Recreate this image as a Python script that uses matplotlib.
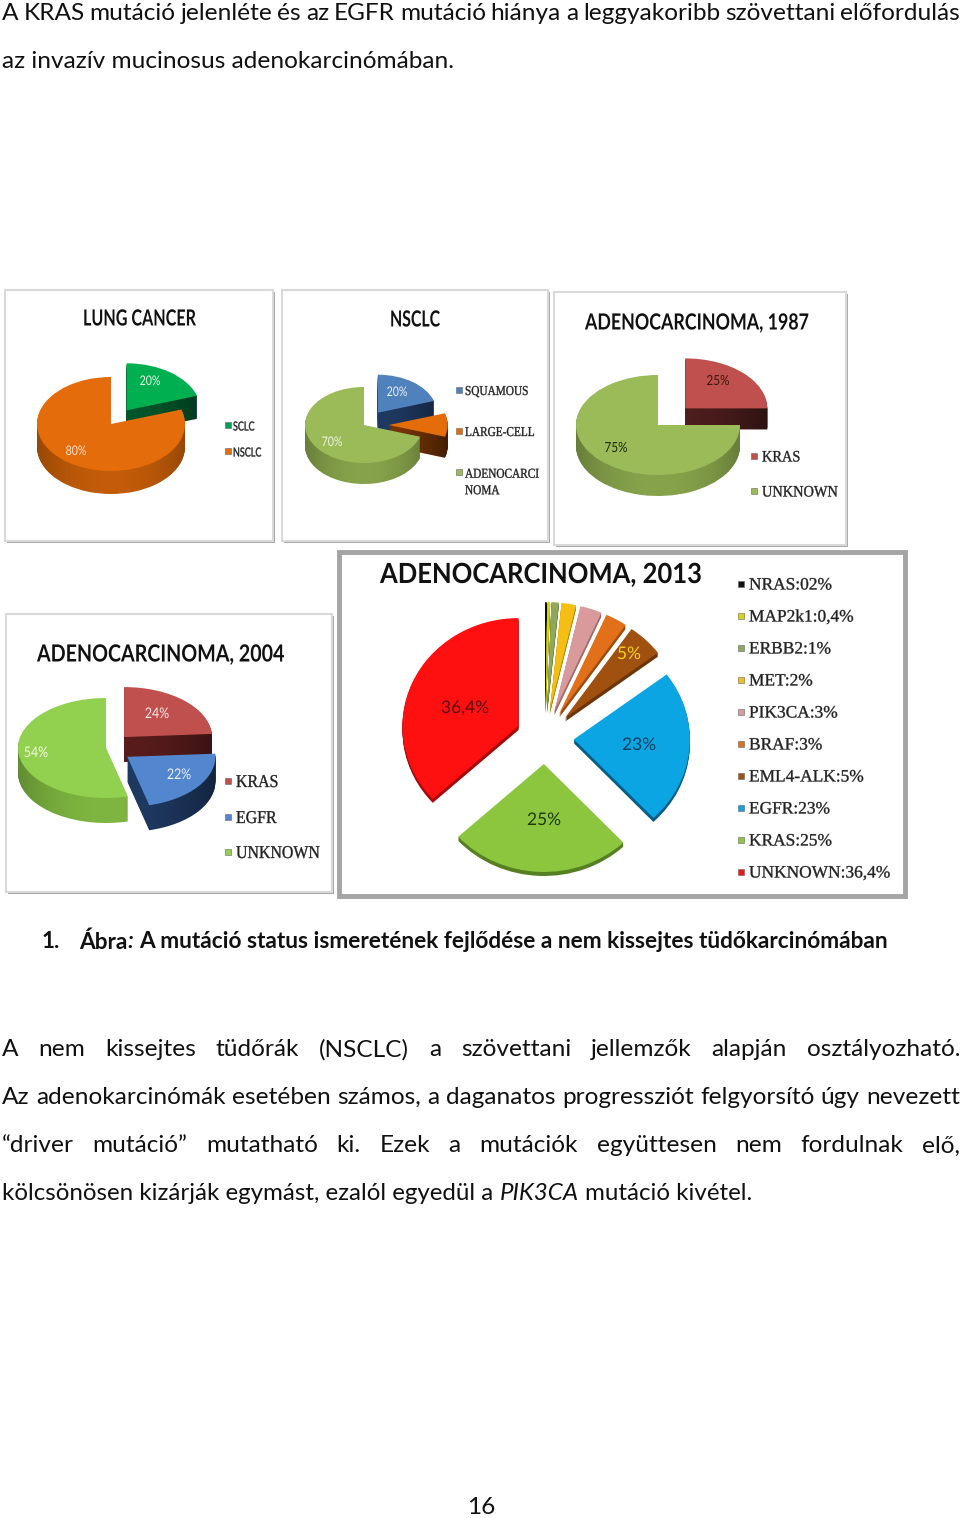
import numpy as np
import matplotlib
matplotlib.use("Agg")
import matplotlib.pyplot as plt
from matplotlib.patches import Rectangle
from matplotlib.path import Path
from matplotlib.patheffects import AbstractPathEffect
from matplotlib.transforms import Affine2D

# ---- data ----
lung_labels = ["SCLC", "NSCLC"]
lung_values = [20, 80]
nsclc_labels = ["SQUAMOUS", "LARGE-CELL", "ADENOCARCI\nNOMA"]
nsclc_values = [20, 10, 70]
adeno87_labels = ["KRAS", "UNKNOWN"]
adeno87_values = [25, 75]
adeno04_labels = ["KRAS", "EGFR", "UNKNOWN"]
adeno04_values = [24, 22, 54]
adeno13_labels = ["NRAS:02%", "MAP2k1:0,4%", "ERBB2:1%", "MET:2%", "PIK3CA:3%", "BRAF:3%",
                  "EML4-ALK:5%", "EGFR:23%", "KRAS:25%", "UNKNOWN:36,4%"]
adeno13_values = [0.2, 0.4, 1, 2, 3, 3, 5, 23, 25, 36.4]

para_top = ["A KRAS mutáció jelenléte és az EGFR mutáció hiánya a leggyakoribb szövettani előfordulás",
            "az invazív mucinosus adenokarcinómában."]
para_bottom = ["A nem kissejtes tüdőrák (NSCLC) a szövettani jellemzők alapján osztályozható.",
               "Az adenokarcinómák esetében számos, a daganatos progressziót felgyorsító úgy nevezett",
               "“driver mutáció” mutatható ki. Ezek a mutációk együttesen nem fordulnak elő,"]
para_last = [("kölcsönösen kizárják egymást, ezalól egyedül a ", "normal"), ("PIK3CA", "italic"),
             (" mutáció kivétel.", "normal")]
caption = [("Ábra", "normal"), (":", "italic"),
           (" A mutáció status ismeretének fejlődése a nem kissejtes tüdőkarcinómában", "normal")]

# ---- page ----
W, H = 960, 1518
fig = plt.figure(figsize=(W / 100, H / 100), dpi=100, facecolor="white")
page = fig.add_axes([0, 0, 1, 1], zorder=0)
page.set_xlim(0, W)
page.set_ylim(H, 0)
page.axis("off")
renderer = fig.canvas.get_renderer()
BODY = "Lato"
BODY_SIZE = 17.6
SERIF = "Liberation Serif"
z_text = 30


class Squeeze(AbstractPathEffect):
    """Narrows a real text horizontally about x0 (pixels), optionally thickening it."""

    def __init__(self, sx, x0, stroke=0.0):
        super().__init__()
        self.sx, self.x0, self.stroke = sx, x0, stroke

    def draw_path(self, renderer, gc, tpath, affine, rgbFace=None):
        aff = affine + Affine2D().translate(-self.x0, 0).scale(self.sx, 1).translate(self.x0, 0)
        if self.stroke:
            gc0 = renderer.new_gc()
            gc0.copy_properties(gc)
            gc0.set_linewidth(self.stroke)
            gc0.set_foreground(rgbFace)
            renderer.draw_path(gc0, tpath, aff, rgbFace)
            gc0.restore()
        else:
            renderer.draw_path(gc, tpath, aff, rgbFace)


def width(s, **kw):
    t = page.text(0, 0, s, **kw)
    w = t.get_window_extent(renderer).width
    t.remove()
    return w


def justified(line, x0, x1, y, **kw):
    words = line.split(" ")
    ws = [width(w, **kw) for w in words]
    gap = (x1 - x0 - sum(ws)) / (len(words) - 1)
    x = x0
    for w, wd in zip(words, ws):
        page.text(x, y, w, va="center", ha="left", color="#111111", **kw)
        x += wd + gap


def segments(parts, x, y, **kw):
    space = width("a a", **kw) - width("aa", **kw)
    for s, style in parts:
        if s.startswith(" "):
            x += space
            s = s[1:]
        trail = s.endswith(" ")
        s = s.rstrip(" ")
        page.text(x, y, s, va="center", ha="left", style=style, color="#111111", **kw)
        x += width(s, style=style, **kw) + (space if trail else 0)


body = dict(family=BODY, fontsize=BODY_SIZE)
justified(para_top[0], 2, 960, 14, **body)
segments([(para_top[1], "normal")], 2, 62, **body)
for line, y in zip(para_bottom, [1050, 1097, 1146]):
    justified(line, 2, 960, y, **body)
segments(para_last, 2, 1193, family=BODY, fontsize=17.4)
cap = dict(family=BODY, fontsize=16.3, weight="bold")
page.text(42, 942, "1.", va="center", ha="left", color="#111111", **cap)
segments(caption, 79, 942, **cap)
page.text(481, 1508, "16", va="center", ha="center", color="#111111", **body)


def frame(x0, y0, x1, y1, edge="#d9d9d9", shadow="#a8a8a8", lw=1.5):
    page.add_patch(Rectangle((x0 + 2, y0 + 2), x1 - x0, y1 - y0, fc=shadow, ec="none", zorder=1))
    page.add_patch(Rectangle((x0, y0), x1 - x0, y1 - y0, fc="white", ec=edge, lw=lw, zorder=2))


SHADE = np.zeros((1, 256, 4))
SHADE[0, :, 3] = 0.55 * np.abs(np.linspace(-1, 1, 256)) ** 2.2


def pie3d(cx, cy, rx, ry, depth, values, tops, sides, explode, order):
    """A pie tilted by unequal axis scales, its wall built from stacked pies."""
    ax = fig.add_axes([0, 0, 1, 1], zorder=5 + pie3d.n, facecolor="none")
    pie3d.n += 1
    wall = [[] for _ in values]
    for layer in range(depth, -1, -1):
        cols = tops if layer == 0 else sides
        wedges, _ = ax.pie(values, colors=cols, explode=explode, startangle=90,
                           counterclock=False, center=(0, -layer / ry), radius=1,
                           wedgeprops=dict(linewidth=0))
        for i, w in enumerate(wedges):
            if layer == 0:
                w.set_zorder(2 + order[i] * 10 + 1)
            else:
                w.set_zorder(2 + order[i] * 10 + (depth - layer) / (depth + 1) * 0.5)
                wall[i].append(w.get_path().deepcopy())
    if depth >= 10:
        for i, paths in enumerate(wall):
            clip = Path.make_compound_path(*paths)
            im = ax.imshow(SHADE, extent=(-1.5, 1.5, -3, 3), aspect="auto",
                           zorder=2 + order[i] * 10 + 0.8, interpolation="bilinear")
            im.set_clip_path(clip, ax.transData)
    ax.set_aspect("auto")
    ax.set_xlim((0 - cx) / rx, (W - cx) / rx)
    ax.set_ylim((cy - H) / ry, cy / ry)
    ax.axis("off")


pie3d.n = 0


def legend(labels, colors, xs, xt, ys, size, sx=1.0, stroke=0.25, family=SERIF, **kw):
    for lab, col, y in zip(labels, colors, ys):
        page.add_patch(Rectangle((xs - 3, y - 3), 6, 6, fc=col, ec="#666666", lw=0.4, zorder=20))
        page.text(xt, y + 1.5, lab, va="center", ha="left", family=family, fontsize=size,
                  color="#222222", zorder=z_text, linespacing=1.35,
                  path_effects=[Squeeze(sx, xt, stroke)], **kw)


def labels(items, size, sx=1.0, family="Lato"):
    for s, x, y, c in items:
        fig.text(x / W, 1 - (y + 1) / H, s, ha="center", va="center", color=c, family=family,
                 fontsize=size, zorder=100, path_effects=[Squeeze(sx, x)])


def title(s, x0, x1, y, size, **kw):
    kw = dict(family="Lato", weight="bold", fontsize=size, **kw)
    sx = (x1 - x0) / width(s, **kw)
    xc = (x0 + x1) / 2
    page.text(xc, y, s, ha="center", va="center", color="#111111", zorder=z_text,
              path_effects=[Squeeze(sx, xc)], **kw)


# panel frames
frame(5, 290, 273, 541)
frame(282, 290, 548, 541)
frame(554, 292, 846, 545)
frame(6, 614, 332, 892)
page.add_patch(Rectangle((339, 552), 566, 344, fc="white", ec="#a4a4a4", lw=3.5, zorder=2))

# Panel 1
orange, d_orange = "#E46C0A", "#C25C08"
pie3d(111, 424, 74, 47, 23, lung_values, ["#00B050", orange], ["#04572C", d_orange],
      [0.36, 0], [0, 1])
legend(lung_labels, ["#00A050", orange], 228, 233, [425, 451], 9, sx=0.72, family="Lato")
title("LUNG CANCER", 83, 196, 319, 16)
labels([("20%", 150, 380, "#E8F5E8"), ("80%", 76, 450, "#F8E4D0")], 9.5, sx=0.8)

# Panel 2
pie3d(364, 425, 59, 38, 21, nsclc_values, ["#4F81BD", orange, "#9BBB59"],
      ["#1F3A63", "#7E3906", "#86A24A"], [0.4, 0.42, 0], [0, 1, 2])
legend(nsclc_labels, ["#4F81BD", orange, "#9BBB59"], 459, 465, [390, 431, 481], 9.8, sx=0.83)
page.patches[-1].set_y(469)
title("NSCLC", 390, 440, 320, 16)
labels([("20%", 397, 391, "#EAF0FA"), ("70%", 332, 441, "#F0F5E4")], 9.5, sx=0.8)

# Panel 3
pie3d(658, 425, 82, 50, 21, adeno87_values, ["#C0504D", "#9BBB59"],
      ["#4F1F1E", "#86A24A"], [0.47, 0], [0, 1])
legend(adeno87_labels, ["#C0504D", "#9BBB59"], 754, 762, [456, 491], 11.5, sx=0.9)
title("ADENOCARCINOMA, 1987", 585, 809, 323, 16)
labels([("25%", 718, 380, "#3A1A10"), ("75%", 616, 447, "#1F2A10")], 10, sx=0.85)

# Panel 4
pie3d(106, 748, 88, 50, 25, adeno04_values, ["#C0504D", "#5286CF", "#92D050"],
      ["#5A1C1C", "#1F3A63", "#7DB540"], [0.3, 0.3, 0], [0, 2, 1])
legend(adeno04_labels, ["#C0504D", "#5286CF", "#92D050"], 228, 236, [781, 817, 852], 13, sx=0.88)
title("ADENOCARCINOMA, 2004", 37, 284, 654, 17)
labels([("24%", 157, 713, "#F8E8E8"), ("22%", 179, 774, "#EAF0FA"), ("54%", 36, 752, "#F2FAE4")],
       10.5, sx=0.85)

# Panel 5
tops13 = ["#111111", "#D8D800", "#8FA85B", "#F5BE14", "#D89A9A", "#E2701A", "#A0500F",
          "#0AA5E2", "#8CC63F", "#FF1010"]
sides13 = ["#000000", "#8A8A00", "#5F7A35", "#B08A05", "#A06A6A", "#A04A0A", "#6E3608",
           "#065E86", "#567F22", "#A80A0A"]
pie3d(545, 737, 116, 108, 4, adeno13_values, tops13, sides13, [0.25] * 10, list(range(10)))
legend(adeno13_labels, tops13, 741, 749, [584, 616, 648, 680, 712, 744, 776, 808, 840, 872], 12.5)
title("ADENOCARCINOMA, 2013", 380, 702, 575, 20)
labels([("36,4%", 465, 707, "#5A0A0A"), ("23%", 639, 744, "#08405E"),
        ("25%", 544, 819, "#1F3A0A"), ("5%", 629, 653, "#F5D020")], 12.5)

fig.savefig("out.png", dpi=100, facecolor="white")
